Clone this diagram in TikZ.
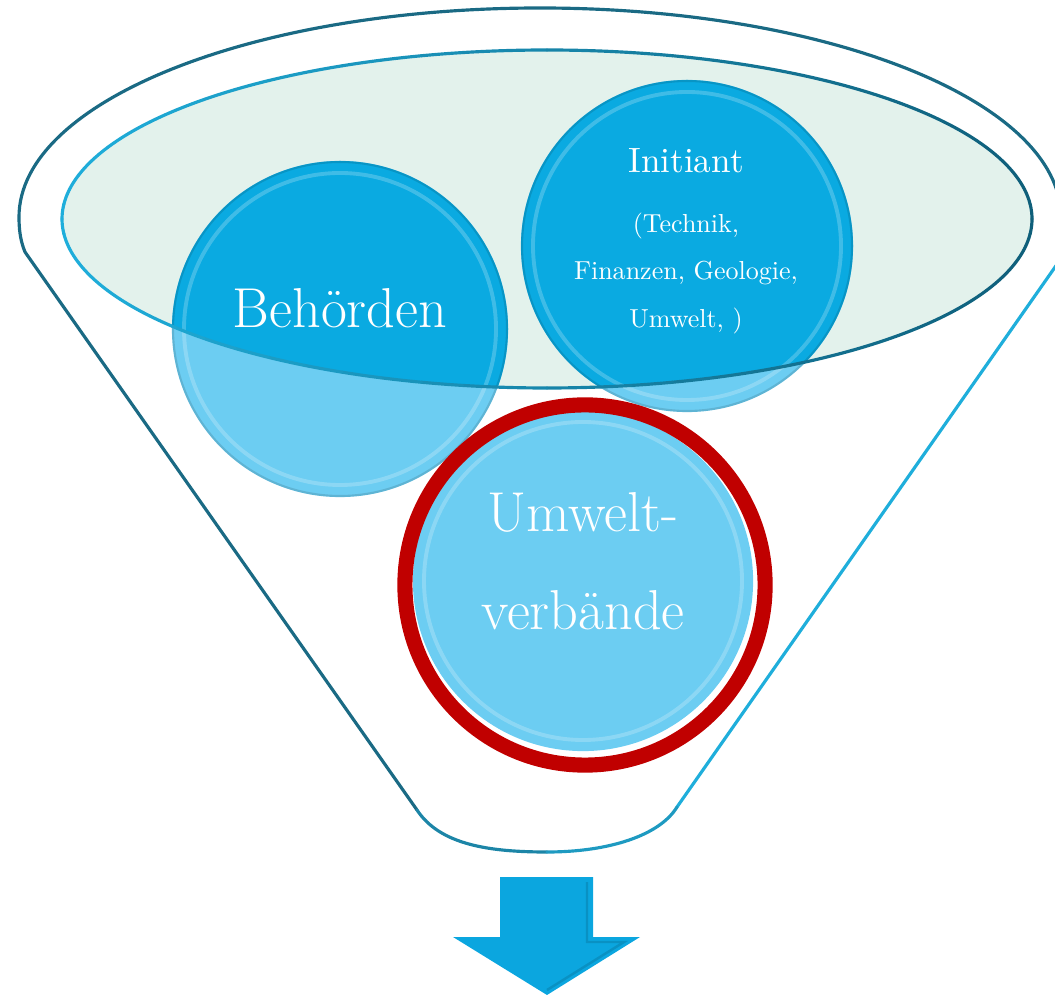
\documentclass[tikz,border=0pt]{standalone}
\usepackage{fontspec}
\definecolor{rimdark}{HTML}{1A6A84}
\definecolor{rimcyan}{HTML}{1FAEDB}
\definecolor{ellfill}{HTML}{E3F2EC}
\definecolor{deepblue}{HTML}{0AAAE1}
\definecolor{lightblue}{HTML}{6CCDF2}
\definecolor{ringred}{HTML}{C00000}
\definecolor{arrowblue}{HTML}{0BA6DF}
\definecolor{innerdark}{HTML}{0F5E79}
\newcommand{\smallline}[1]{\scalebox{0.74}{\fontsize{10}{12}\selectfont #1}}
\tikzset{
  bubble/.style={circle, inner sep=0pt, outer sep=0pt},
  bigtxt/.style={text=white, anchor=base, inner sep=0pt, font=\fontsize{16}{19}\selectfont},
  midtxt/.style={text=white, anchor=base, inner sep=0pt, font=\fontsize{10}{12}\selectfont},
  smalltxt/.style={text=white, anchor=base, inner sep=0pt},
  funnelline/.style={line width=0.9pt, line cap=round, line join=round},
  bevel/.style={white, opacity=0.22, line width=1.1pt},
  edge/.style={black, opacity=0.12, line width=0.6pt}
}
\begin{document}
\begin{tikzpicture}[x=0.01cm, y=-0.01cm]
\useasboundingbox (0,0) rectangle (1055,995);
\begin{scope}
\clip (0,0) rectangle (1055,995);
% ---- outer funnel
\coordinate (rimL) at (19,217);
\coordinate (kinkL) at (417,810);
\coordinate (kinkR) at (677,807);
\coordinate (topR) at (1067,250);
\coordinate (botC) at (547,852);
\draw[funnelline, rimdark] (kinkL) -- (25,252) .. controls (20,240) and (19,228) .. (rimL)
   arc[start angle=180, end angle=360, x radius=521, y radius=209]
   .. controls (1061,228) and (1063,240) .. (topR);
\draw[funnelline, rimcyan] (topR) -- (kinkR);
\draw[funnelline, rimdark!60!rimcyan] (kinkL) .. controls (440,845) and (490,852) .. (botC);
\draw[funnelline, rimdark!30!rimcyan] (botC) .. controls (610,852) and (660,835) .. (kinkR);
% ---- inner ellipse fill
\coordinate (ec) at (547,219);
\fill[ellfill] (ec) ellipse[x radius=485, y radius=169];
% ---- circles (light part)
\node[bubble, minimum size=3.36cm, fill=lightblue] (beh) at (340,329) {};
\node[bubble, minimum size=3.32cm, fill=lightblue] (ini) at (687,246) {};
% ---- circles (part inside the ellipse, darker)
\begin{scope}
\clip (ec) ellipse[x radius=485, y radius=169];
\fill[deepblue] (beh.center) circle[radius=168];
\fill[deepblue] (ini.center) circle[radius=166];
\end{scope}
% bevels
\draw[bevel] (beh.center) circle[radius=156];
\draw[bevel] (ini.center) circle[radius=154];
\draw[edge] (beh.center) circle[radius=167];
\draw[edge] (ini.center) circle[radius=165];
% ---- inner ellipse stroke, graded from cyan (left) to dark teal (right)
\foreach \a in {0,5,...,355} {
  \pgfmathtruncatemacro\p{50+50*cos(\a+2.5)}
  \draw[innerdark!\p!rimcyan, line width=0.9pt, line cap=round]
    (ec) ++(\a:485 and 169) arc[start angle=\a, end angle=\a+5, x radius=485, y radius=169];
}
% ---- texts
\node[bigtxt] (behtxt) at (340,328) {Behörden};
\node[midtxt] (initxt) at (686,173) {Initiant};
\node[smalltxt] (ini1) at (686,233) {\smallline{(Technik,}};
\node[smalltxt] (ini2) at (686,280) {\smallline{Finanzen, Geologie,}};
\node[smalltxt] (ini3) at (686,328) {\smallline{Umwelt, )}};
% ---- Umweltverbaende circle with red ring
\node[bubble, minimum size=3.40cm, fill=lightblue] (umw) at (583,581) {};
\draw[bevel] (umw.center) circle[radius=159];
\node[bubble, minimum size=3.60cm, draw=ringred, line width=4.3pt] (ring) at (585,585) {};
\node[bigtxt] (umw1) at (583,532) {Umwelt-};
\node[bigtxt] (umw2) at (583,630) {verbände};
% ---- arrow
\fill[arrowblue] (500,877) -- (593,877) -- (593,937) -- (640,937) -- (547,995) -- (453,937) -- (500,937) -- cycle;
\draw[black, opacity=0.12, line width=0.7pt] (587,882) -- (587,942) -- (624,942) -- (547,990);
\end{scope}
\end{tikzpicture}
\end{document}
